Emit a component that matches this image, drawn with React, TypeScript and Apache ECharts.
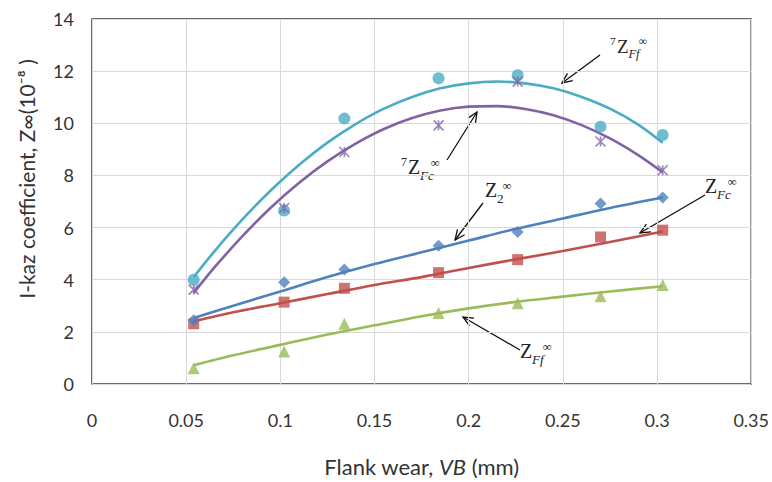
import React, { useEffect, useRef } from "react";
import * as echarts from "echarts";

// Measured points
const wearX = [0.054, 0.102, 0.134, 0.184, 0.226, 0.27, 0.303];
const z7Ff = [4.0, 6.65, 10.18, 11.73, 11.84, 9.87, 9.55];
const z7Fc = [3.62, 6.75, 8.9, 9.92, 11.6, 9.3, 8.2];
const z2 = [2.45, 3.9, 4.39, 5.3, 5.83, 6.92, 7.15];
const zFc = [2.31, 3.14, 3.67, 4.27, 4.77, 5.64, 5.9];
const zFf = [0.6, 1.25, 2.31, 2.72, 3.1, 3.37, 3.8];

// Curved trend lines
const curveX = [0.054, 0.065, 0.08, 0.095, 0.11, 0.125, 0.14, 0.155, 0.17, 0.185, 0.2, 0.215, 0.23, 0.245, 0.26, 0.275, 0.29, 0.303];
const trend7Ff = [4.1, 5.09, 6.32, 7.43, 8.41, 9.26, 9.97, 10.56, 11.01, 11.34, 11.53, 11.6, 11.53, 11.34, 11.01, 10.56, 9.95, 9.25];
const trend7Fc = [3.49, 4.47, 5.68, 6.77, 7.72, 8.54, 9.22, 9.78, 10.2, 10.49, 10.64, 10.66, 10.55, 10.31, 9.93, 9.42, 8.78, 8.12];

// Gently curved trend lines
const trendX = [0.054, 0.075, 0.1, 0.125, 0.15, 0.175, 0.2, 0.225, 0.25, 0.275, 0.303];
const trendZ2 = [2.53, 3.0, 3.55, 4.1, 4.6, 5.05, 5.5, 5.95, 6.35, 6.75, 7.15];
const trendFc = [2.4, 2.75, 3.1, 3.45, 3.8, 4.1, 4.45, 4.78, 5.1, 5.45, 5.85];
const trendFf = [0.72, 1.1, 1.5, 1.9, 2.25, 2.6, 2.9, 3.15, 3.35, 3.55, 3.75];

const yTitle = "I-kaz coefficient, Z\u221e(10\u207b\u2078 )";

const C_CYAN = "#4BACC6";
const C_PURPLE = "#8064A2";
const C_BLUE = "#4F81BD";
const C_RED = "#C0504D";
const C_GREEN = "#9BBB59";

const SERIF = "'Liberation Serif', 'DejaVu Serif', serif";
const SANS = "Lato, 'Open Sans', sans-serif";

const pairs = (xs: number[], ys: number[]) => xs.map((x, i) => [x, ys[i]]);

function arrow(x1: number, y1: number, x2: number, y2: number) {
  const ang = Math.atan2(y2 - y1, x2 - x1);
  const len = 11;
  const spread = 0.42;
  const a1 = ang + Math.PI - spread;
  const a2 = ang + Math.PI + spread;
  return {
    type: "group",
    children: [
      {
        type: "line",
        shape: { x1, y1, x2, y2 },
        style: { stroke: "#111", lineWidth: 1.3 },
      },
      {
        type: "polyline",
        shape: {
          points: [
            [x2 + len * Math.cos(a1), y2 + len * Math.sin(a1)],
            [x2, y2],
            [x2 + len * Math.cos(a2), y2 + len * Math.sin(a2)],
          ],
        },
        style: { stroke: "#111", lineWidth: 1.3, fill: "none" },
      },
    ],
  };
}

function txt(text: string, x: number, y: number, size: number, italic = false) {
  return {
    type: "text",
    x,
    y,
    style: {
      text,
      fill: "#222",
      font: `${italic ? "italic " : ""}${size}px ${SERIF}`,
      align: "left",
      verticalAlign: "middle",
    },
  };
}

function zLabel(
  x: number,
  cy: number,
  pre: string,
  sub: string,
  subItalic: boolean,
  size: number
) {
  const els: any[] = [];
  if (pre) {
    els.push(txt(pre, x - 7, cy - 5, size * 0.6));
  }
  els.push(txt("Z", x, cy, size));
  const subX = x + size * 0.6;
  els.push(txt(sub, subX, cy + size * 0.4, size * 0.66, subItalic));
  const subW = sub.length * size * 0.27;
  els.push(txt("\u221e", subX + subW, cy - size * 0.22, size * 0.62));
  return { type: "group", children: els };
}

export default function App() {
  const ref = useRef<HTMLDivElement>(null);
  useEffect(() => {
    document.body.style.margin = "0";
    if (!ref.current) return;
    const chart = echarts.init(ref.current, undefined, { renderer: "svg" });
    const starPath = "path://M0,0L10,10M10,0L0,10M5,0L5,10";
    const scatter = (name: string, ys: number[], color: string, symbol: string, size: number, extra: any = {}) => ({
      name,
      type: "scatter",
      data: pairs(wearX, ys),
      symbol,
      symbolSize: size,
      itemStyle: { color, ...extra },
      z: 3,
    });
    const trend = (name: string, xs: number[], ys: number[], color: string) => ({
      name,
      type: "line",
      data: pairs(xs, ys),
      smooth: 0.3,
      showSymbol: false,
      symbol: "none",
      lineStyle: { color, width: 2.6 },
      z: 2,
    });
    chart.setOption({
      animation: false,
      backgroundColor: "#fff",
      grid: {
        left: 92,
        right: 19,
        top: 19,
        bottom: 93,
        show: true,
        borderColor: "#3a3a3a",
        borderWidth: 1.5,
      },
      xAxis: {
        type: "value",
        min: 0,
        max: 0.35,
        interval: 0.05,
        axisLine: { show: false },
        axisTick: { show: false },
        splitLine: { show: true, lineStyle: { color: "#d9d9d9", width: 1 } },
        axisLabel: {
          color: "#333",
          fontFamily: SANS,
          fontSize: 18,
          margin: 27,
          formatter: (v: number) => String(Number(v.toFixed(2))),
        },
        name: "Flank wear, {i|VB} (mm)",
        nameLocation: "middle",
        nameGap: 71,
        nameTextStyle: {
          color: "#333",
          fontFamily: SANS,
          fontSize: 22,
          rich: {
            i: { fontStyle: "italic", fontFamily: SANS, fontSize: 22, color: "#333" },
          },
        },
      },
      yAxis: {
        type: "value",
        min: 0,
        max: 14,
        interval: 2,
        axisLine: { show: false },
        axisTick: { show: false },
        splitLine: { show: true, lineStyle: { color: "#d9d9d9", width: 1 } },
        axisLabel: { color: "#333", fontFamily: SANS, fontSize: 18, margin: 18 },
      },
      series: [
        trend("trend7Ff", curveX, trend7Ff, C_CYAN),
        trend("trend7Fc", curveX, trend7Fc, C_PURPLE),
        trend("trendZ2", trendX, trendZ2, C_BLUE),
        trend("trendFc", trendX, trendFc, C_RED),
        trend("trendFf", trendX, trendFf, C_GREEN),
        scatter("ZFc", zFc, C_RED, "rect", 11),
        scatter("Z2", z2, C_BLUE, "diamond", 12),
        scatter("ZFf", zFf, C_GREEN, "triangle", 12),
        scatter("7ZFf", z7Ff, C_CYAN, "circle", 12),
        scatter("7ZFc", z7Fc, C_PURPLE, starPath, 10, {
          color: "none",
          borderColor: C_PURPLE,
          borderWidth: 1.6,
        }),
      ],
      graphic: [
        {
          type: "text",
          x: 26,
          y: 179,
          rotation: Math.PI / 2,
          style: {
            text: yTitle,
            fill: "#333",
            font: `21px ${SANS}`,
            align: "center",
            verticalAlign: "middle",
          },
        },
        zLabel(617, 46, "7", "Ff", true, 19),
        arrow(600, 55, 562, 83),
        zLabel(408, 167, "7", "Fc", true, 20),
        arrow(447, 160, 477, 112),
        zLabel(485, 190, "", "2", false, 20),
        arrow(483, 203, 455, 240),
        zLabel(705, 186, "", "Fc", true, 20),
        arrow(705, 195, 640, 233),
        zLabel(520, 351, "", "Ff", true, 20),
        arrow(520, 350, 463, 317),
      ],
    });
    return () => chart.dispose();
  }, []);
  return <div ref={ref} style={{ width: 772, height: 482 }} />;
}
